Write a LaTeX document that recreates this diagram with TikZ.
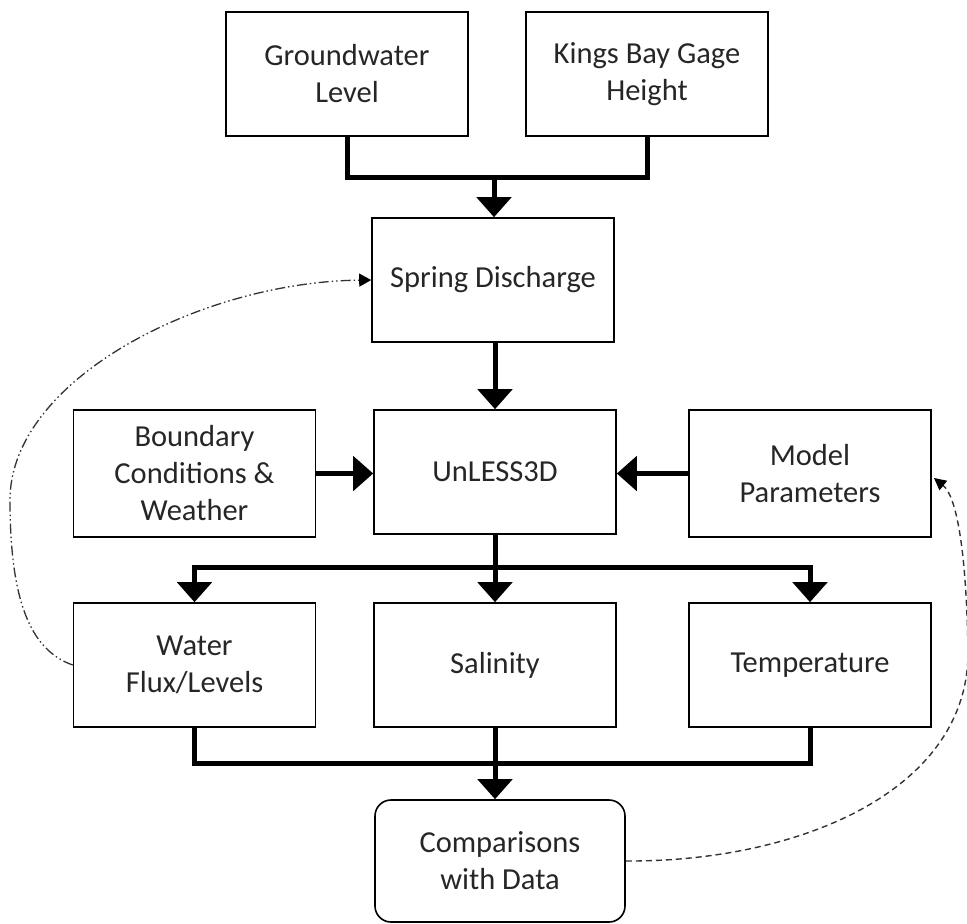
\documentclass[tikz,border=0pt]{standalone}
\usepackage{fontspec}
\setmainfont{Carlito}
\usetikzlibrary{arrows.meta,positioning}
\tikzset{
  box/.style={draw=black, line width=1.6pt, minimum width=242pt, minimum height=124pt,
    align=center, inner sep=2pt, text=black!85, font=\fontsize{30.5}{37}\selectfont},
  rbox/.style={box, rounded corners=16pt, minimum width=250pt, minimum height=122pt},
  flow/.style={line width=5pt, line join=miter, draw=black},
  flowarr/.style={flow, -{Triangle[width=34pt,length=20pt]}},
  fbA/.style={line width=1.3pt, draw=black!80, dash pattern=on 10pt off 3pt on 1.5pt off 3pt on 1.5pt off 3pt,
    -{Triangle[width=13pt,length=12pt,black]}},
  fbB/.style={line width=1.4pt, draw=black!80, dash pattern=on 6pt off 4pt,
    -{Triangle[width=12pt,length=12pt,black]}}
}
\begin{document}
\begin{tikzpicture}[x=1pt,y=-1pt]
\useasboundingbox (0,0) rectangle (967,924);
\node[box] (gw) at (347,74) {Groundwater\\Level};
\node[box] (kb) at (647,74) {Kings Bay Gage\\Height};
\node[box] (sd) at (493,280) {Spring Discharge};
\node[box] (un) at (495,472) {UnLESS3D};
\node[box, minimum height=127pt] (bc) at (194.5,473.5) {Boundary\\Conditions \&\\Weather};
\node[box, minimum height=127pt] (mp) at (810,473.5) {Model\\Parameters};
\node[box] (wf) at (194.5,665) {Water\\Flux/Levels};
\node[box] (sal) at (495,665) {Salinity};
\node[box] (tp) at (810,665) {Temperature};
\node[rbox] (cmp) at (500,861) {Comparisons\\with Data};

\coordinate (j1) at (494,177);
\coordinate (j2) at (495,567);
\coordinate (j3) at (495,763);
\coordinate (mpin) at (934,478);

% top merge
\draw[flow] (gw.south) |- (j1) -| (kb.south);
\draw[flowarr] (j1) -- (j1 |- sd.north);
% spring -> model
\draw[flowarr] (sd.south -| j2) -- (un.north -| j2);
\draw[flowarr] (bc.east) -- (bc.east -| un.west);
\draw[flowarr] (mp.west) -- (mp.west -| un.east);
% split
\draw[flow] (un.south -| j2) -- (j2);
\draw[flowarr] (j2) -| (wf.north);
\draw[flowarr] (j2) -| (tp.north);
\draw[flowarr] (j2) -- (sal.north -| j2);
% merge bottom
\draw[flow] (wf.south) |- (j3) -| (tp.south);
\draw[flow] (sal.south -| j3) -- (j3);
\draw[flowarr] (j3) -- (cmp.north -| j3);

% feedback loops
\draw[fbA] (wf.west) .. controls (30,650) and (10,600) .. (10,500)
  .. controls (10,380) and (200,282) .. (sd.west);
\draw[fbB] (cmp.east) .. controls (800,862) and (970,790) .. (968,650)
  .. controls (966,540) and (955,495) .. (mpin);
\end{tikzpicture}
\end{document}
